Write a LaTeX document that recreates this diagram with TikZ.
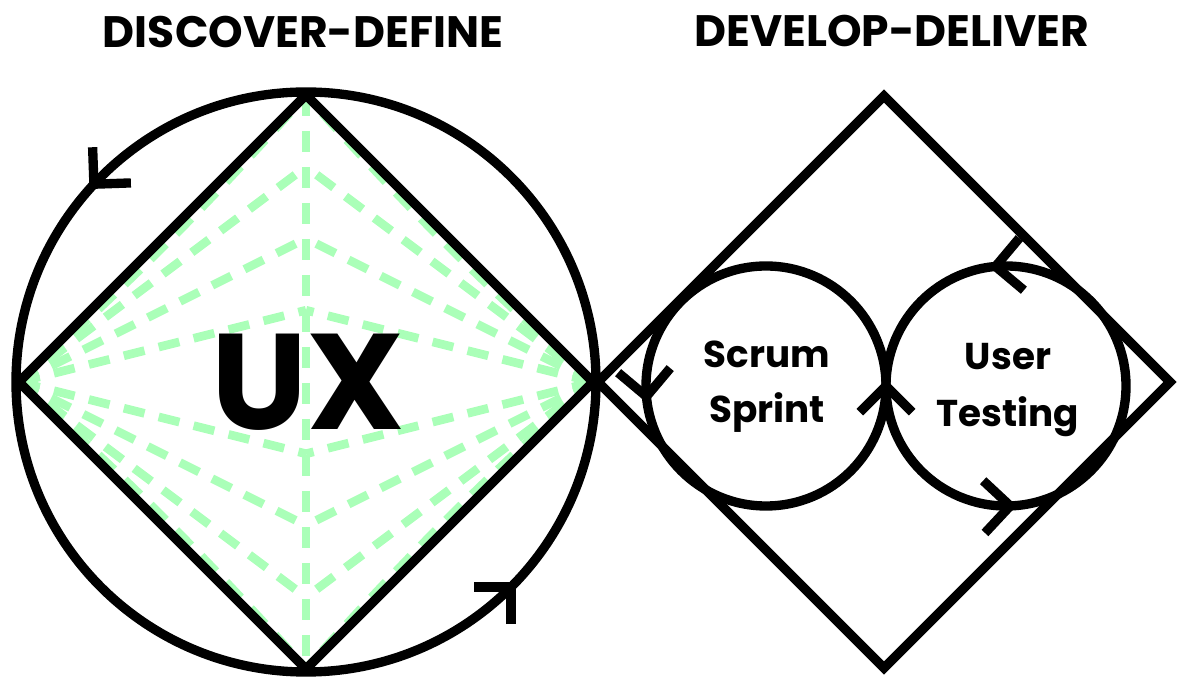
\documentclass[tikz,border=0pt]{standalone}
\usepackage{fontspec}
\setmainfont{Poppins}
\usetikzlibrary{calc}
\definecolor{mint}{RGB}{170,255,184}
\begin{document}
\begin{tikzpicture}[x=0.75pt,y=0.75pt,line join=miter,line cap=butt]
\tikzset{heavy/.style={black,line width=7pt},
	guide/.style={mint,line width=6.5pt,dash pattern=on 16pt off 11pt},
	heading/.style={inner sep=0pt,font=\fontsize{33}{36}\selectfont\bfseries},
	lbl/.style={inner sep=0pt,anchor=base,font=\fontsize{28}{34}\selectfont\bfseries}}
\useasboundingbox (0,0) rectangle (1177,681);
% discover-define square and circle
\coordinate (c1) at (306,299);
\coordinate (l1) at (19,299);
\coordinate (r1) at (593,299);
\coordinate (t1) at (306,586);
\coordinate (b1) at (306,12);
\foreach \k in {-3,-2,-1,1,2,3}{
	\draw[guide] (l1) -- ($(c1)+(0,\k*71.75)$);
	\draw[guide] (r1) -- ($(c1)+(0,\k*71.75)$);
}
\draw[guide] (l1) to[bend right=3] (t1);
\draw[guide] (l1) to[bend left=3] (b1);
\draw[guide] (r1) to[bend left=3] (t1);
\draw[guide] (r1) to[bend right=3] (b1);
\draw[guide] (t1) -- (b1);
\draw[heavy] (c1) circle[radius=290];
\draw[heavy] (l1) -- (t1) -- (r1) -- (b1) -- cycle;
\foreach \a in {137,-45}
\draw[heavy] (c1) ++(\a:290) +(\a-45:37) -- +(0,0) -- +(\a-135:37);
\node[inner sep=0pt,font=\fontsize{102}{110}\selectfont\bfseries] (ux) at (308,299) {UX};
% develop-deliver square with the two loops
\coordinate (c2) at (884,299);
\coordinate (l2) at (598,299);
\coordinate (r2) at (1170,299);
\coordinate (t2) at (884,585);
\coordinate (b2) at (884,13);
\coordinate (s) at (766,295);
\coordinate (u) at (1006,295);
\draw[heavy] (l2) -- (t2) -- (r2) -- (b2) -- cycle;
\draw[heavy] (s) circle[radius=120];
\draw[heavy] (u) circle[radius=120];
\foreach \c/\a in {s/0,s/185,u/95,u/272}
\draw[heavy] (\c) ++(\a:120) +(\a-45:37) -- +(0,0) -- +(\a-135:37);
\node[lbl] (scrum) at (767,313) {Scrum};
\node[lbl] (sprint) at (767,258) {Sprint};
\node[lbl] (user) at (1008,311) {User};
\node[lbl] (testing) at (1008,254) {Testing};
% headings
\node[heading] (dd) at (303,649) {DISCOVER-DEFINE};
\node[heading] (dl) at (892,650) {DEVELOP-DELIVER};
\end{tikzpicture}
\end{document}
